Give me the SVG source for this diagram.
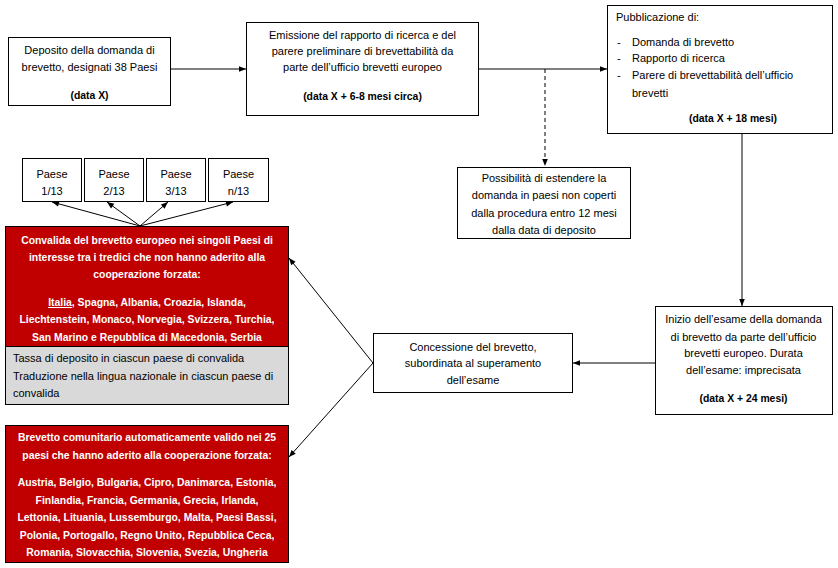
<svg xmlns="http://www.w3.org/2000/svg" width="838" height="568" viewBox="0 0 838 568">
<defs>
<style>
text{font-family:"Liberation Sans",Arial,sans-serif;font-size:11px;fill:#000}
.c{text-anchor:middle}
.b{font-weight:bold;font-size:10.4px}
.w{fill:#fff}
.box{fill:#fff;stroke:#000;stroke-width:1}
.red{fill:#C00000;stroke:#000;stroke-width:1}
.gray{fill:#D9D9D9;stroke:#000;stroke-width:1}
.ln{stroke:#000;stroke-width:1;fill:none}
</style>
<marker id="ah" viewBox="0 0 10 10" refX="10" refY="5" markerWidth="9" markerHeight="7" markerUnits="userSpaceOnUse" orient="auto">
<path d="M0,1 L10,5 L0,9 Z" fill="#000"/>
</marker>
</defs>
<rect width="838" height="568" fill="#fff"/>
<g id="connectors">
<line class="ln" x1="171" y1="69" x2="246" y2="69" marker-end="url(#ah)"/>
<line class="ln" x1="479" y1="69" x2="607" y2="69" marker-end="url(#ah)"/>
<line class="ln" x1="545" y1="69" x2="545" y2="166" stroke-dasharray="4,3" marker-end="url(#ah)"/>
<line class="ln" x1="742" y1="134" x2="742" y2="306" marker-end="url(#ah)"/>
<line class="ln" x1="655" y1="363" x2="573" y2="363" marker-end="url(#ah)"/>
<line class="ln" x1="373" y1="363" x2="289" y2="258" marker-end="url(#ah)"/>
<line class="ln" x1="373" y1="363" x2="289" y2="457" marker-end="url(#ah)"/>
<line class="ln" x1="140" y1="226" x2="52" y2="202" marker-end="url(#ah)"/>
<line class="ln" x1="140" y1="226" x2="107" y2="202" marker-end="url(#ah)"/>
<line class="ln" x1="140" y1="226" x2="168" y2="202" marker-end="url(#ah)"/>
<line class="ln" x1="140" y1="226" x2="233" y2="202" marker-end="url(#ah)"/>
</g>
<g id="deposito">
<rect class="box" x="8.5" y="37.5" width="162" height="68"/>
<text class="c" x="89.5" y="54">Deposito della domanda di</text>
<text class="c" x="89.5" y="71">brevetto, designati 38 Paesi</text>
<text class="c b" x="89.5" y="99">(data X)</text>
</g>
<g id="emissione">
<rect class="box" x="246.5" y="22.5" width="232" height="93"/>
<text class="c" x="362.5" y="39">Emissione del rapporto di ricerca e del</text>
<text class="c" x="362.5" y="55">parere preliminare di brevettabilità da</text>
<text class="c" x="362.5" y="71">parte dell’ufficio brevetti europeo</text>
<text class="c b" x="362.5" y="100">(data X + 6-8 mesi circa)</text>
</g>
<g id="pubblicazione">
<rect class="box" x="607.5" y="5.5" width="225" height="128"/>
<text x="616" y="21">Pubblicazione di:</text>
<text x="617" y="46">-</text>
<text x="632" y="46">Domanda di brevetto</text>
<text x="617" y="62">-</text>
<text x="632" y="62">Rapporto di ricerca</text>
<text x="617" y="79">-</text>
<text x="632" y="79">Parere di brevettabilità dell’ufficio</text>
<text x="632" y="97">brevetti</text>
<text class="c b" x="733" y="122">(data X + 18 mesi)</text>
</g>
<g id="possibilita">
<rect class="box" x="457.5" y="167.5" width="173" height="71"/>
<text class="c" x="544" y="182">Possibilità di estendere la</text>
<text class="c" x="544" y="199">domanda in paesi non coperti</text>
<text class="c" x="544" y="217">dalla procedura entro 12 mesi</text>
<text class="c" x="544" y="234">dalla data di deposito</text>
</g>
<g id="inizio">
<rect class="box" x="655.5" y="306.5" width="177" height="108"/>
<text class="c" x="743.5" y="323">Inizio dell’esame della domanda</text>
<text class="c" x="743.5" y="341">di brevetto da parte dell’ufficio</text>
<text class="c" x="743.5" y="357">brevetti europeo. Durata</text>
<text class="c" x="743.5" y="374">dell’esame: imprecisata</text>
<text class="c b" x="743.5" y="402">(data X + 24 mesi)</text>
</g>
<g id="concessione">
<rect class="box" x="373.5" y="333.5" width="199" height="59"/>
<text class="c" x="473" y="351">Concessione del brevetto,</text>
<text class="c" x="473" y="367">subordinata al superamento</text>
<text class="c" x="473" y="384">dell’esame</text>
</g>
<g id="paese1">
<rect class="box" x="22.5" y="158.5" width="59" height="43"/>
<text class="c" x="52" y="178">Paese</text>
<text class="c" x="52" y="195">1/13</text>
</g>
<g id="paese2">
<rect class="box" x="84.5" y="158.5" width="59" height="43"/>
<text class="c" x="114" y="178">Paese</text>
<text class="c" x="114" y="195">2/13</text>
</g>
<g id="paese3">
<rect class="box" x="146.5" y="158.5" width="59" height="43"/>
<text class="c" x="176" y="178">Paese</text>
<text class="c" x="176" y="195">3/13</text>
</g>
<g id="paesen">
<rect class="box" x="208.5" y="158.5" width="60" height="43"/>
<text class="c" x="238.5" y="178">Paese</text>
<text class="c" x="238.5" y="195">n/13</text>
</g>
<g id="convalida">
<rect class="red" x="5.5" y="226.5" width="283" height="120"/>
<text class="c b w" x="147" y="244">Convalida del brevetto europeo nei singoli Paesi di</text>
<text class="c b w" x="147" y="261">interesse tra i tredici che non hanno aderito alla</text>
<text class="c b w" x="147" y="278">cooperazione forzata:</text>
<text class="c b w" x="147" y="306"><tspan text-decoration="underline">Italia</tspan>, Spagna, Albania, Croazia, Islanda,</text>
<text class="c b w" x="147" y="323">Liechtenstein, Monaco, Norvegia, Svizzera, Turchia,</text>
<text class="c b w" x="147" y="341">San Marino e Repubblica di Macedonia, Serbia</text>
<rect class="gray" x="5.5" y="346.5" width="283" height="58"/>
<text x="13" y="362">Tassa di deposito in ciascun paese di convalida</text>
<text x="13" y="380">Traduzione nella lingua nazionale in ciascun paese di</text>
<text x="13" y="397">convalida</text>
</g>
<g id="comunitario">
<rect class="red" x="5.5" y="425.5" width="283" height="137"/>
<text class="c b w" x="147" y="441">Brevetto comunitario automaticamente valido nei 25</text>
<text class="c b w" x="147" y="459">paesi che hanno aderito alla cooperazione forzata:</text>
<text class="c b w" x="147" y="486">Austria, Belgio, Bulgaria, Cipro, Danimarca, Estonia,</text>
<text class="c b w" x="147" y="503.5">Finlandia, Francia, Germania, Grecia, Irlanda,</text>
<text class="c b w" x="147" y="521">Lettonia, Lituania, Lussemburgo, Malta, Paesi Bassi,</text>
<text class="c b w" x="147" y="538.5">Polonia, Portogallo, Regno Unito, Repubblica Ceca,</text>
<text class="c b w" x="147" y="556">Romania, Slovacchia, Slovenia, Svezia, Ungheria</text>
</g>
</svg>
